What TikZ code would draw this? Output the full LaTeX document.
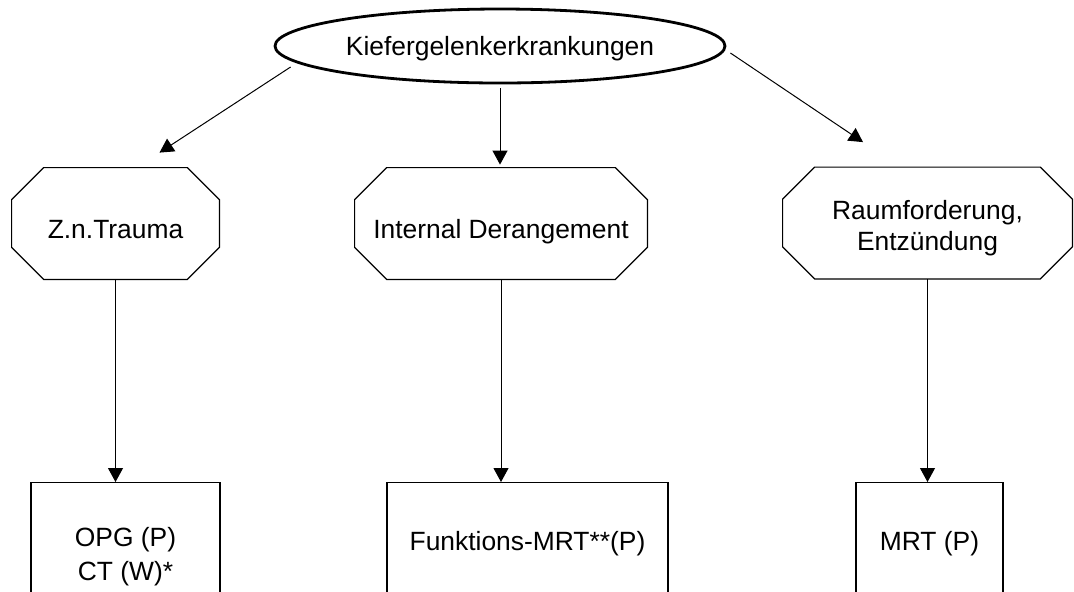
\documentclass[tikz,border=0pt]{standalone}
\usepackage{fontspec}
\setmainfont{Liberation Sans}
\usetikzlibrary{calc,shapes.geometric,arrows.meta}

\begin{document}
\begin{tikzpicture}[x=0.5pt,y=-0.5pt,
    every node/.style={font=\fontsize{13.2pt}{15.2pt}\selectfont, inner sep=0pt},
    hexbox/.style={minimum height=55.5pt, text height=14.5pt, text depth=0pt, align=center},
    box/.style={draw, line width=0.6pt, anchor=north, minimum height=58.6pt, text height=9.4pt, text depth=0pt, align=center},
    link/.style={line width=0.5pt, -{Triangle[length=7pt,width=7.5pt]}}]
    \useasboundingbox (0,0) rectangle (1074,591);
    \node[draw, ellipse, line width=1.4pt, minimum width=225pt, minimum height=37pt, text depth=0pt] at (500,46) (K) {Kiefergelenkerkrankungen};
    \node[hexbox, minimum width=103.5pt] at (115.5,223.5) (T) {Z.n.Trauma};
    \node[hexbox, minimum width=146pt] at (501,223.5) (D) {Internal Derangement};
    \node[hexbox, minimum width=144.5pt, text height=27pt] at (927.5,223) (R) {Raumforderung,\\Entzündung};
    \foreach \n in {T,D,R}
        \draw[line width=0.6pt] ($(\n.north west)+(32,0)$) -- ($(\n.north east)+(-32,0)$) -- ($(\n.north east)+(0,32)$) -- ($(\n.south east)+(0,-32)$) -- ($(\n.south east)+(-32,0)$) -- ($(\n.south west)+(32,0)$) -- ($(\n.south west)+(0,-32)$) -- ($(\n.north west)+(0,32)$) -- cycle;
    \node[box, minimum width=94.5pt, text height=39.4pt] at (125.5,482) (O) {OPG (P)\\[1.8pt]CT (W)*};
    \node[box, minimum width=140.5pt] at (527.5,482) (F) {Funktions-MRT**(P)};
    \node[box, minimum width=73.5pt] at (929.5,482) (M) {MRT (P)};
    \draw[link, shorten <=2pt, shorten >=1.5pt] (K.south) -- (K.south |- D.north);
    \draw[link] ($(K.west)+(17,21)$) -- ($(T.north)+(44,-15)$);
    \draw[link] ($(K.east)+(4,7)$) -- ($(R.north)+(-64.5,-25)$);
    \draw[link] (T.south) -- (T.south |- O.north);
    \draw[link] (D.south) -- (D.south |- F.north);
    \draw[link] (R.south) -- (R.south |- M.north);
\end{tikzpicture}
\end{document}
